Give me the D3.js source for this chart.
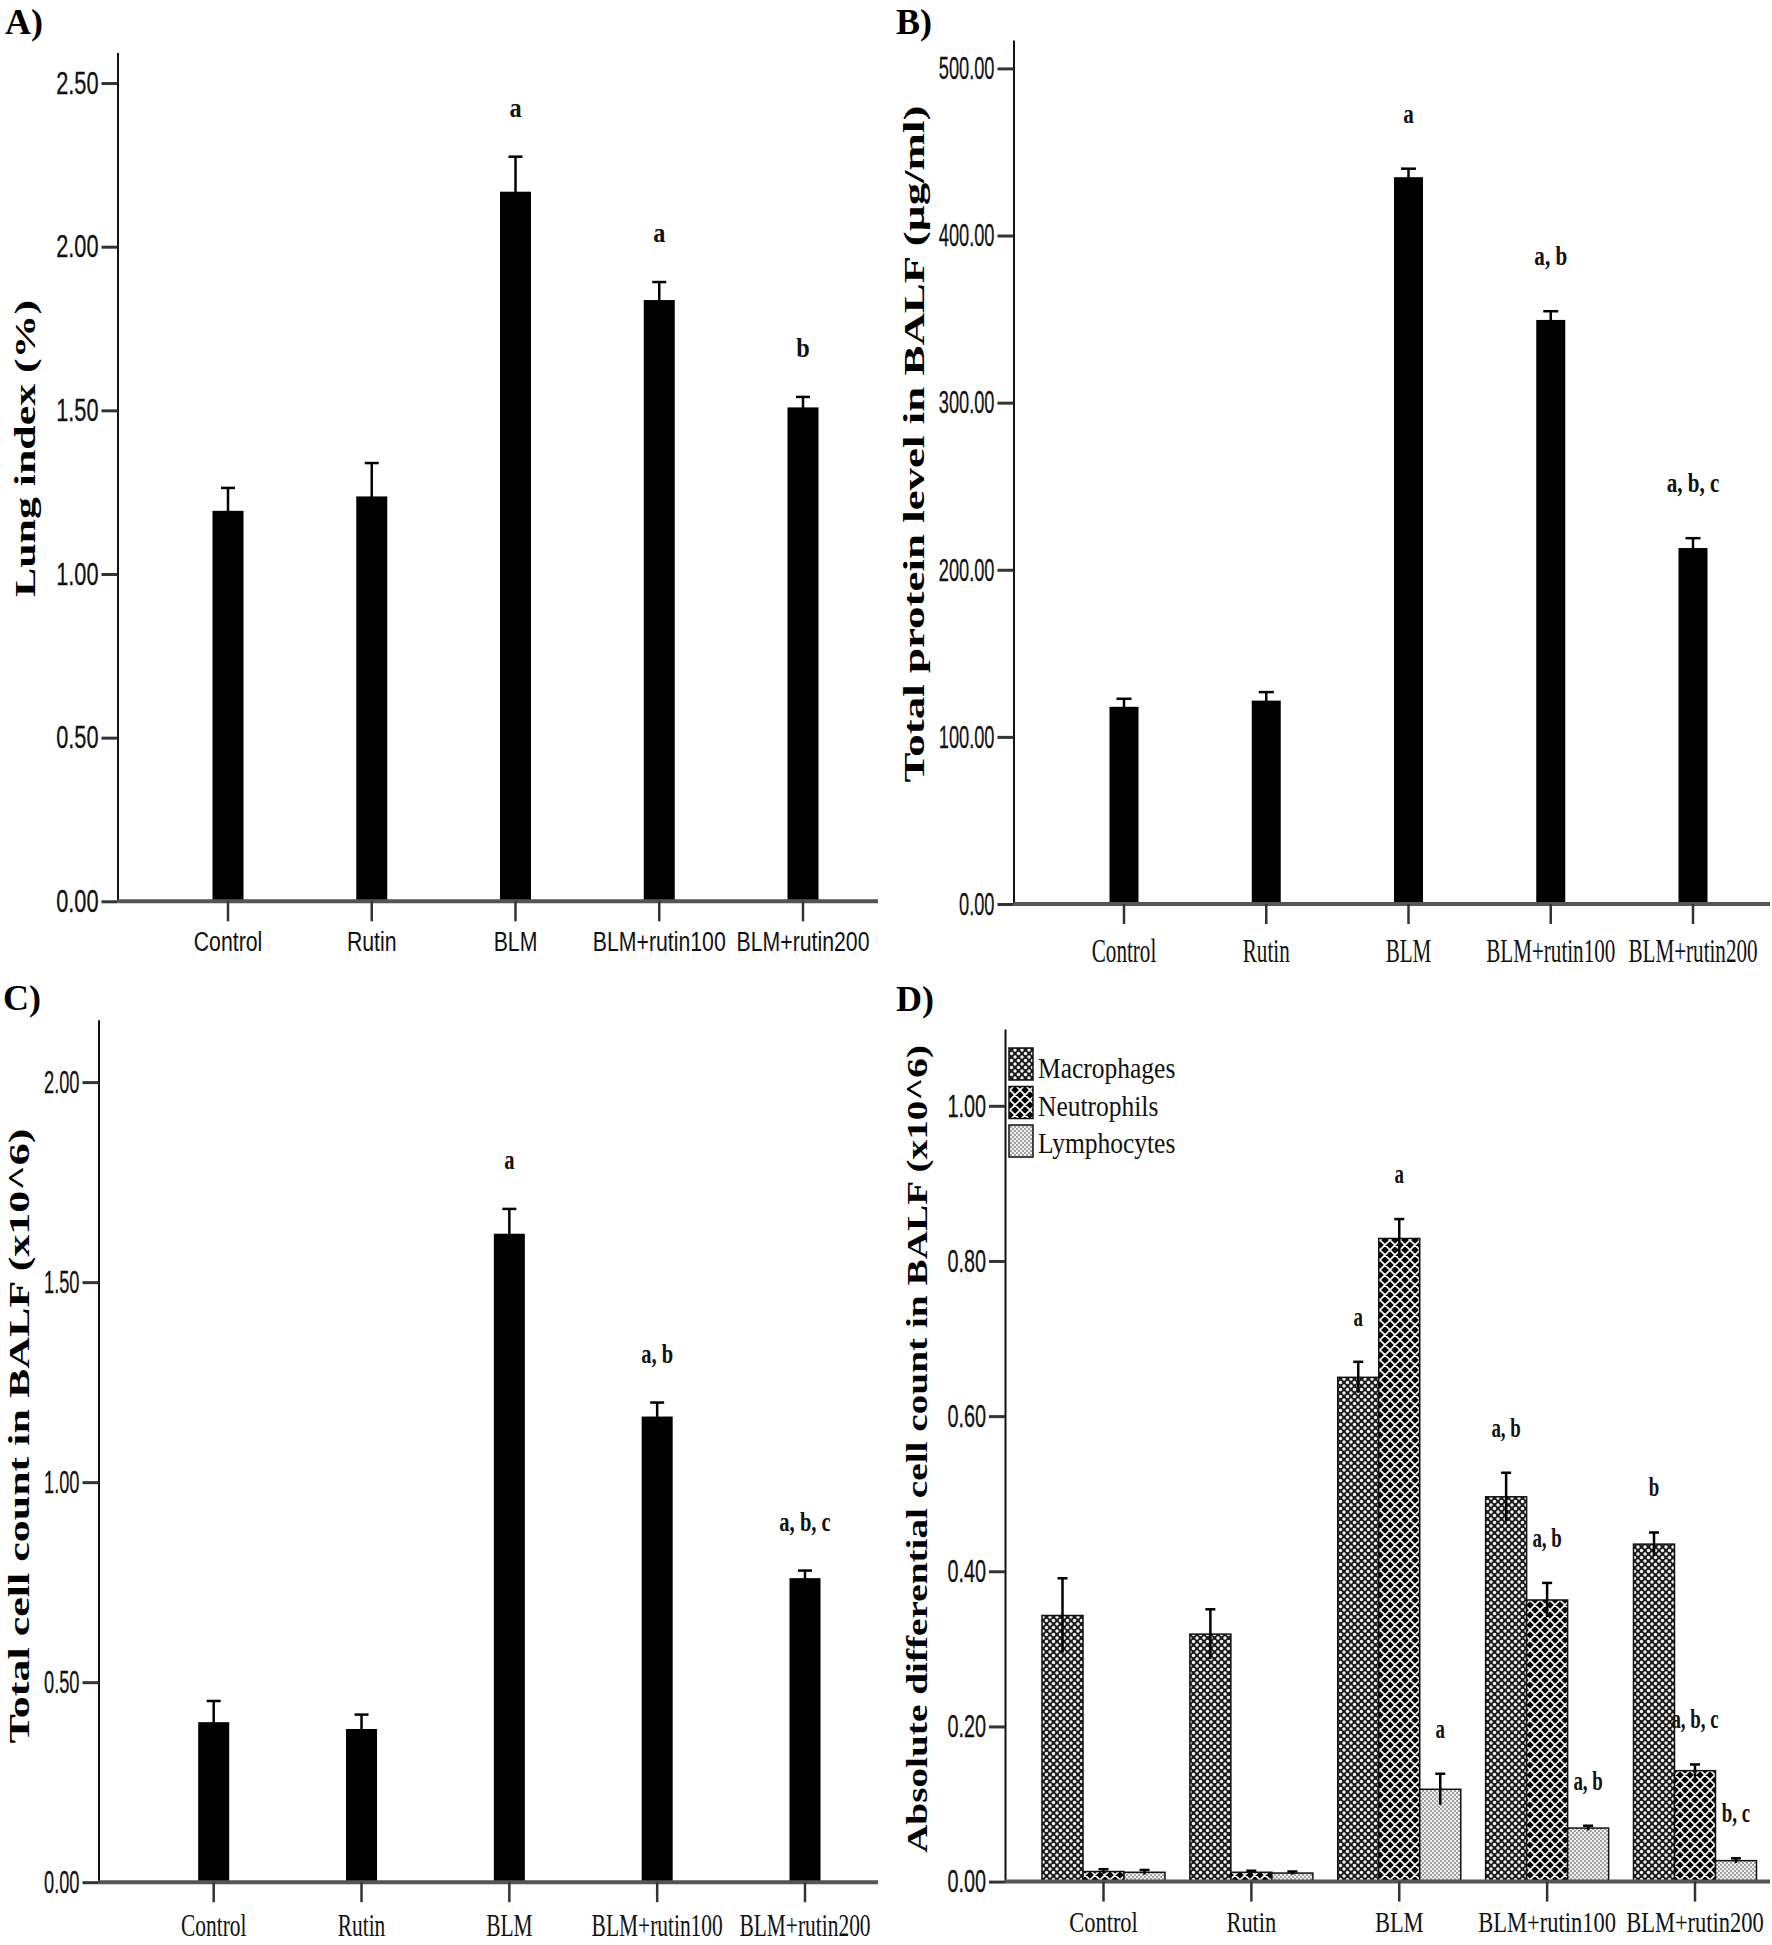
<!DOCTYPE html>
<html>
<head>
<meta charset="utf-8">
<script src="https://cdn.jsdelivr.net/npm/d3@7"></script>
<style>
  html, body { margin: 0; padding: 0; background: #fff; }
  svg { display: block; }
</style>
</head>
<body>
<script>
// ---------------- DATA ----------------
const categories = ["Control", "Rutin", "BLM", "BLM+rutin100", "BLM+rutin200"];

// Panel A: Lung index (%)
const lungIndexMean = [1.193, 1.237, 2.168, 1.837, 1.509];
const lungIndexSem  = [0.070, 0.102, 0.107, 0.055, 0.032];
const lungIndexSig  = ["", "", "a", "a", "b"];
const lungIndexTicks = [0, 0.5, 1.0, 1.5, 2.0, 2.5];

// Panel B: Total protein level in BALF (µg/ml)
const proteinMean = [118.0, 121.7, 434.9, 349.5, 213.0];
const proteinSem  = [4.8, 5.1, 5.1, 5.2, 5.9];
const proteinSig  = ["", "", "a", "a, b", "a, b, c"];
const proteinTicks = [0, 100, 200, 300, 400, 500];

// Panel C: Total cell count in BALF (x10^6)
const totalCellMean = [0.400, 0.383, 1.621, 1.164, 0.760];
const totalCellSem  = [0.053, 0.036, 0.062, 0.035, 0.019];
const totalCellSig  = ["", "", "a", "a, b", "a, b, c"];
const totalCellTicks = [0, 0.5, 1.0, 1.5, 2.0];

// Panel D: Absolute differential cell count in BALF (x10^6)
const cellTypes = ["Macrophages", "Neutrophils", "Lymphocytes"];
const macrophageMean = [0.343, 0.319, 0.650, 0.496, 0.435];
const macrophageSem  = [0.048, 0.032, 0.020, 0.031, 0.015];
const macrophageSig  = ["", "", "a", "a, b", "b"];
const neutrophilMean = [0.013, 0.012, 0.829, 0.363, 0.143];
const neutrophilSem  = [0.003, 0.002, 0.025, 0.022, 0.008];
const neutrophilSig  = ["", "", "a", "a, b", "a, b, c"];
const lymphocyteMean = [0.012, 0.011, 0.119, 0.069, 0.027];
const lymphocyteSem  = [0.003, 0.002, 0.020, 0.003, 0.003];
const lymphocyteSig  = ["", "", "a", "a, b", "b, c"];
const diffTicks = [0, 0.2, 0.4, 0.6, 0.8, 1.0];

// ---------------- SETUP ----------------
const W = 1772, H = 1945;
const svg = d3.select("body").append("svg").attr("width", W).attr("height", H);
const SANS = "'Liberation Sans', Arial, sans-serif";
const SERIF = "'Liberation Serif', 'Times New Roman', serif";

// horizontally condense a text by scaling it around its own anchor point
function condense(sel, sx) {
  sel.each(function () {
    const t = d3.select(this);
    const x = +t.attr("x") || 0, y = +t.attr("y") || 0;
    t.attr("x", 0).attr("y", 0).attr("transform", `translate(${x},${y}) scale(${sx},1)`);
  });
}

// patterns
const defs = svg.append("defs");
const pm = defs.append("pattern").attr("id", "pat-macro").attr("patternUnits", "userSpaceOnUse")
  .attr("width", 7).attr("height", 7);
pm.append("rect").attr("width", 7).attr("height", 7).attr("fill", "#1c1c1c");
[[0,0],[7,0],[0,7],[7,7],[3.5,3.5]].forEach(p =>
  pm.append("circle").attr("cx", p[0]).attr("cy", p[1]).attr("r", 1.7).attr("fill", "#f4f4f4"));
const pn = defs.append("pattern").attr("id", "pat-neut").attr("patternUnits", "userSpaceOnUse")
  .attr("width", 10).attr("height", 10);
pn.append("rect").attr("width", 10).attr("height", 10).attr("fill", "#000");
pn.append("path").attr("d", "M0,0L10,10M10,0L0,10M-1,9L1,11M9,-1L11,1M-1,1L1,-1M9,11L11,9")
  .attr("stroke", "#fff").attr("stroke-width", 1.6);
const pl = defs.append("pattern").attr("id", "pat-lymph").attr("patternUnits", "userSpaceOnUse")
  .attr("width", 4).attr("height", 4);
pl.append("rect").attr("width", 4).attr("height", 4).attr("fill", "#f2f2f2");
[[1,1],[3,3]].forEach(p =>
  pl.append("circle").attr("cx", p[0]).attr("cy", p[1]).attr("r", 0.9).attr("fill", "#7a7a7a"));
const fills = { Macrophages: "url(#pat-macro)", Neutrophils: "url(#pat-neut)", Lymphocytes: "url(#pat-lymph)" };

// ---------------- PANEL DRAWER ----------------
function drawFrame(cfg) {
  const g = svg.append("g");
  const y = d3.scaleLinear().domain([0, cfg.yMax]).range([cfg.y0, cfg.yTop]);
  const x = d3.scalePoint().domain(categories).range([cfg.xFirst, cfg.xLast]);

  g.append("text").attr("x", cfg.letterX).attr("y", cfg.letterY)
    .attr("font-family", SERIF).attr("font-weight", "bold").attr("font-size", 36)
    .text(cfg.letter);

  g.append("text")
    .attr("transform", `translate(${cfg.ylabX + 9.6},${cfg.ylabY}) rotate(-90)`)
    .attr("text-anchor", "middle")
    .attr("font-family", SERIF).attr("font-weight", "bold").attr("font-size", 29)
    .attr("textLength", cfg.ylabLen).attr("lengthAdjust", "spacingAndGlyphs")
    .text(cfg.ylab);

  return { g, x, y };
}

function drawAxes(cfg, g, x, y) {
  const ya = g.append("g").attr("transform", `translate(${cfg.axisX},0)`)
    .call(d3.axisLeft(y).tickValues(cfg.ticks).tickFormat(d3.format(cfg.fmt))
      .tickSize(16).tickPadding(3).tickSizeOuter(0));
  ya.select(".domain").attr("stroke", "#111").attr("stroke-width", 2);
  ya.selectAll(".tick line").attr("stroke", "#333").attr("stroke-width", 3);
  const tt = ya.selectAll(".tick text").attr("font-family", SANS).attr("font-size", 32)
    .attr("fill", "#111").attr("stroke", "#111").attr("stroke-width", 0.3);
  condense(tt, cfg.tickSx);

  g.append("line").attr("x1", cfg.axisX).attr("x2", cfg.xEnd)
    .attr("y1", y(0)).attr("y2", y(0)).attr("stroke", "#555").attr("stroke-width", 4);
  g.selectAll(".xt").data(categories).join("line")
    .attr("x1", d => x(d)).attr("x2", d => x(d))
    .attr("y1", y(0)).attr("y2", y(0) + 20)
    .attr("stroke", "#333").attr("stroke-width", 2.5);
  const xl = g.selectAll(".xl").data(categories).join("text")
    .attr("x", d => x(d)).attr("y", cfg.xlabY)
    .attr("text-anchor", "middle")
    .attr("font-family", cfg.xlabFont).attr("font-size", cfg.xlabSize).attr("fill", "#111")
    .text(d => d);
  condense(xl, cfg.xlabSx);
}

function drawErr(g, cx, y, v, s, cap) {
  g.append("line").attr("x1", cx).attr("x2", cx).attr("y1", y(v - s)).attr("y2", y(v + s))
    .attr("stroke", "#000").attr("stroke-width", 2.5);
  g.append("line").attr("x1", cx - cap / 2).attr("x2", cx + cap / 2)
    .attr("y1", y(v + s)).attr("y2", y(v + s))
    .attr("stroke", "#000").attr("stroke-width", 2.5);
}

function drawSig(g, cx, yy, label, sx) {
  if (!label) return;
  const t = g.append("text").attr("x", cx).attr("y", yy).attr("text-anchor", "middle")
    .attr("font-family", SERIF).attr("font-weight", "bold").attr("font-size", 27)
    .attr("fill", "#111").text(label);
  condense(t, sx);
}

function simplePanel(cfg, mean, sem, sig) {
  const { g, x, y } = drawFrame(cfg);
  const rows = categories.map((c, i) => ({ c, v: mean[i], s: sem[i], sig: sig[i] }));
  g.selectAll(".bar").data(rows).join("rect")
    .attr("x", d => x(d.c) - cfg.bw / 2).attr("width", cfg.bw)
    .attr("y", d => y(d.v)).attr("height", d => y(0) - y(d.v))
    .attr("fill", "#000");
  rows.forEach(d => {
    drawErr(g, x(d.c), y, d.v, d.s, cfg.cap);
    drawSig(g, x(d.c), y(d.v + d.s) - cfg.sigGap, d.sig, cfg.sigSx);
  });
  drawAxes(cfg, g, x, y);
}

// ---------------- PANELS ----------------
simplePanel({
  letter: "A)", letterX: 5, letterY: 34,
  ylab: "Lung index (%)", ylabX: 25.4, ylabY: 448.5, ylabLen: 297,
  yMax: 2.593, y0: 901.3, yTop: 52.6, axisX: 117.5, xEnd: 878,
  xFirst: 228, xLast: 803, bw: 31, cap: 14,
  ticks: lungIndexTicks, fmt: ".2f", tickSx: 0.68,
  xlabY: 951, xlabFont: SANS, xlabSize: 28, xlabSx: 0.76,
  sigGap: 40, sigSx: 0.9
}, lungIndexMean, lungIndexSem, lungIndexSig);

simplePanel({
  letter: "B)", letterX: 896, letterY: 34,
  ylab: "Total protein level in BALF (µg/ml)", ylabX: 914, ylabY: 444, ylabLen: 677,
  yMax: 517, y0: 904, yTop: 40, axisX: 1013.5, xEnd: 1770,
  xFirst: 1124, xLast: 1693, bw: 29, cap: 15,
  ticks: proteinTicks, fmt: ".2f", tickSx: 0.57,
  xlabY: 962, xlabFont: SERIF, xlabSize: 33, xlabSx: 0.64,
  sigGap: 46, sigSx: 0.78
}, proteinMean, proteinSem, proteinSig);

simplePanel({
  letter: "C)", letterX: 3, letterY: 1010,
  ylab: "Total cell count in BALF (x10^6)", ylabX: 19.8, ylabY: 1436, ylabLen: 615,
  yMax: 2.156, y0: 1882.2, yTop: 1019.7, axisX: 98.5, xEnd: 878,
  xFirst: 213.7, xLast: 805, bw: 31, cap: 14,
  ticks: totalCellTicks, fmt: ".2f", tickSx: 0.57,
  xlabY: 1936, xlabFont: SERIF, xlabSize: 32, xlabSx: 0.67,
  sigGap: 40, sigSx: 0.76
}, totalCellMean, totalCellSem, totalCellSig);

// Panel D (grouped)
(function () {
  const cfg = {
    letter: "D)", letterX: 896, letterY: 1011,
    ylab: "Absolute differential cell count in BALF (x10^6)", ylabX: 917, ylabY: 1449, ylabLen: 808,
    yMax: 1.099, y0: 1881.6, yTop: 1029, axisX: 1005, xEnd: 1770,
    xFirst: 1103.5, xLast: 1695, cap: 10,
    ticks: diffTicks, fmt: ".2f", tickSx: 0.62,
    xlabY: 1931.5, xlabFont: SERIF, xlabSize: 30, xlabSx: 0.75,
    sigGap: 36, sigSx: 0.7
  };
  const { g, x, y } = drawFrame(cfg);
  const sub = d3.scaleBand().domain(cellTypes).range([-61.5, 61.5]).paddingInner(0);
  const series = [
    { t: "Macrophages", mean: macrophageMean, sem: macrophageSem, sig: macrophageSig },
    { t: "Neutrophils", mean: neutrophilMean, sem: neutrophilSem, sig: neutrophilSig },
    { t: "Lymphocytes", mean: lymphocyteMean, sem: lymphocyteSem, sig: lymphocyteSig }
  ];
  const rows = [];
  series.forEach(s => categories.forEach((c, i) =>
    rows.push({ t: s.t, c, v: s.mean[i], s: s.sem[i], sig: s.sig[i] })));
  g.selectAll(".dbar").data(rows).join("rect")
    .attr("x", d => x(d.c) + sub(d.t)).attr("width", sub.bandwidth())
    .attr("y", d => y(d.v)).attr("height", d => y(0) - y(d.v))
    .attr("fill", d => fills[d.t]).attr("stroke", "#111").attr("stroke-width", 1.5);
  rows.forEach(d => {
    const cx = x(d.c) + sub(d.t) + sub.bandwidth() / 2;
    drawErr(g, cx, y, d.v, d.s, cfg.cap);
    drawSig(g, cx, y(d.v + d.s) - cfg.sigGap, d.sig, cfg.sigSx);
  });
  drawAxes(cfg, g, x, y);

  const lg = g.append("g");
  cellTypes.forEach((t, i) => {
    lg.append("rect").attr("x", 1009).attr("y", 1048 + i * 38.5).attr("width", 24).attr("height", 32)
      .attr("fill", fills[t]).attr("stroke", "#111").attr("stroke-width", 1.5);
    const tx = lg.append("text").attr("x", 1038).attr("y", 1078 + i * 37.5)
      .attr("font-family", SERIF).attr("font-size", 30).attr("fill", "#111").text(t);
    condense(tx, 0.85);
  });
})();
</script>
</body>
</html>
